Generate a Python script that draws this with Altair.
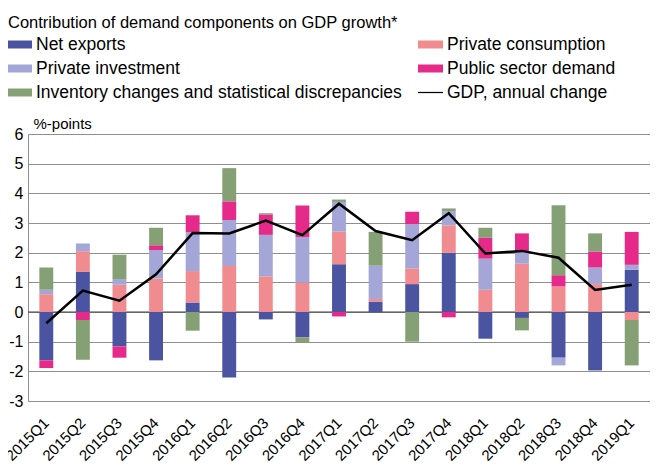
import altair as alt
import pandas as pd

FONT = "Liberation Sans"

quarters = ["2015Q1", "2015Q2", "2015Q3", "2015Q4", "2016Q1", "2016Q2", "2016Q3", "2016Q4",
            "2017Q1", "2017Q2", "2017Q3", "2017Q4", "2018Q1", "2018Q2", "2018Q3", "2018Q4", "2019Q1"]

net_exports = [-1.63, 1.35, -1.16, -1.63, 0.32, -2.21, -0.25, -0.85, 1.61, 0.35, 0.94, 2.00, -0.90, -0.20, -1.54, -1.97, 1.42]
private_consumption = [0.60, 0.70, 0.92, 1.13, 1.06, 1.55, 1.20, 0.99, 1.10, 0.09, 0.53, 0.92, 0.75, 1.63, 0.86, 0.94, -0.27]
private_investment = [0.15, 0.26, 0.19, 0.96, 1.31, 1.55, 1.40, 1.54, 1.00, 1.12, 1.49, 0.48, 1.05, 0.39, -0.26, 0.56, 0.17]
public_sector = [-0.26, -0.27, -0.38, 0.16, 0.57, 0.63, 0.69, 1.06, -0.15, 0.00, 0.42, -0.18, 0.70, 0.63, 0.38, 0.54, 1.11]
inventory = [0.75, -1.34, 0.82, 0.59, -0.63, 1.12, 0.04, -0.16, 0.08, 1.14, -1.00, 0.09, 0.34, -0.42, 2.36, 0.61, -1.53]
gdp_growth = [-0.38, 0.72, 0.38, 1.27, 2.66, 2.65, 3.08, 2.59, 3.65, 2.73, 2.42, 3.33, 1.97, 2.06, 1.83, 0.74, 0.92]

# stacking order (bottom-up from zero)
series_names = ["Net exports", "Private consumption", "Private investment",
                "Public sector demand", "Inventory changes and statistical discrepancies"]
gdp_name = "GDP, annual change"
# legend order (filled column by column: left column, then right column)
legend_names = ["Net exports", "Private investment", "Inventory changes and statistical discrepancies",
                "Private consumption", "Public sector demand", gdp_name]
legend_colors = ["#4A54A0", "#A3A6D6", "#86A075", "#F08C8F", "#E62A89", "#000000"]
RECT = "M-1,-0.32H1V0.32H-1Z"
LINE = "M-1,-0.05H1V0.05H-1Z"
legend_shapes = [RECT, RECT, RECT, RECT, RECT, LINE]
y_ticks = [-3, -2, -1, 0, 1, 2, 3, 4, 5, 6]

series_values = [net_exports, private_consumption, private_investment, public_sector, inventory]
rows = []
for i, q in enumerate(quarters):
    for k, (name, vals) in enumerate(zip(series_names, series_values)):
        rows.append({"quarter": q, "component": name, "value": vals[i], "order": k})
bars_df = pd.DataFrame(rows)
gdp_df = pd.DataFrame({"quarter": quarters, "gdp": gdp_growth})
zero_df = pd.DataFrame({"v": [0]})
legend_df = pd.DataFrame({"component": legend_names})

y_scale = alt.Scale(domain=[-3, 6], nice=False)
y_axis = alt.Axis(values=y_ticks, title="%-points", titleAngle=0, titleAlign="left",
                  titleBaseline="alphabetic", titleX=5, titleY=-6, titleFontSize=15,
                  titleFontWeight="normal", titleColor="#000000",
                  labelExpr="datum.value + ''", labelOverlap=False,
                  labelFontSize=16, labelPadding=5, ticks=False, domain=False,
                  grid=True, gridColor="#8f8f8f", gridWidth=1)
x_scale = alt.Scale(paddingInner=0.62, paddingOuter=0.31)
x_axis = alt.Axis(title=None, labelAngle=-45, labelAlign="right", labelBaseline="middle",
                  labelPadding=19, labelFontSize=15, ticks=False, domain=False, grid=False)
color_scale = alt.Scale(domain=legend_names, range=legend_colors)
shape_scale = alt.Scale(domain=legend_names, range=legend_shapes)

legend = alt.Legend(
    title=None, orient="none", legendX=-21, legendY=-102, columns=2, columnPadding=16,
    rowPadding=3, labelFontSize=17.5, labelColor="#000000", labelLimit=600, labelOffset=4,
    symbolSize=625, symbolStrokeWidth=0, symbolOpacity=1,
)

zero = alt.Chart(zero_df).mark_rule(color="#404040", strokeWidth=1.2).encode(
    y=alt.Y("v:Q", scale=y_scale, axis=y_axis)
)

bars = alt.Chart(bars_df).mark_bar().encode(
    x=alt.X("quarter:N", sort=quarters, scale=x_scale, axis=x_axis),
    y=alt.Y("value:Q", stack="zero", scale=y_scale, axis=y_axis),
    color=alt.Color("component:N", scale=color_scale, legend=legend),
    order=alt.Order("order:Q", sort="ascending"),
)

line = alt.Chart(gdp_df).mark_line(color="#000000", strokeWidth=2.5).encode(
    x=alt.X("quarter:N", sort=quarters, scale=x_scale, axis=x_axis),
    y=alt.Y("gdp:Q", scale=y_scale, axis=y_axis),
)

legend_layer = alt.Chart(legend_df).mark_point(filled=True, opacity=0).encode(
    color=alt.Color("component:N", scale=color_scale, legend=legend),
    shape=alt.Shape("component:N", scale=shape_scale, legend=legend),
)

chart = alt.layer(zero, bars, line, legend_layer).properties(
    width=622, height=267,
    padding={"left": 20, "top": 126, "right": 0, "bottom": 68},
    autosize=alt.AutoSizeParams(type="none"),
    title=alt.Title("Contribution of demand components on GDP growth*", anchor="start",
                    fontSize=16.5, fontWeight="normal", color="#000000", dx=-20, dy=16,
                    baseline="alphabetic", orient="top", frame="group"),
).configure(font=FONT).configure_view(stroke="#8f8f8f", strokeWidth=1).configure_axis(
    labelColor="#000000", labelFont=FONT, titleFont=FONT
).configure_legend(labelFont=FONT)

chart.save("out.html", embed_options={"renderer": "svg", "actions": False})
